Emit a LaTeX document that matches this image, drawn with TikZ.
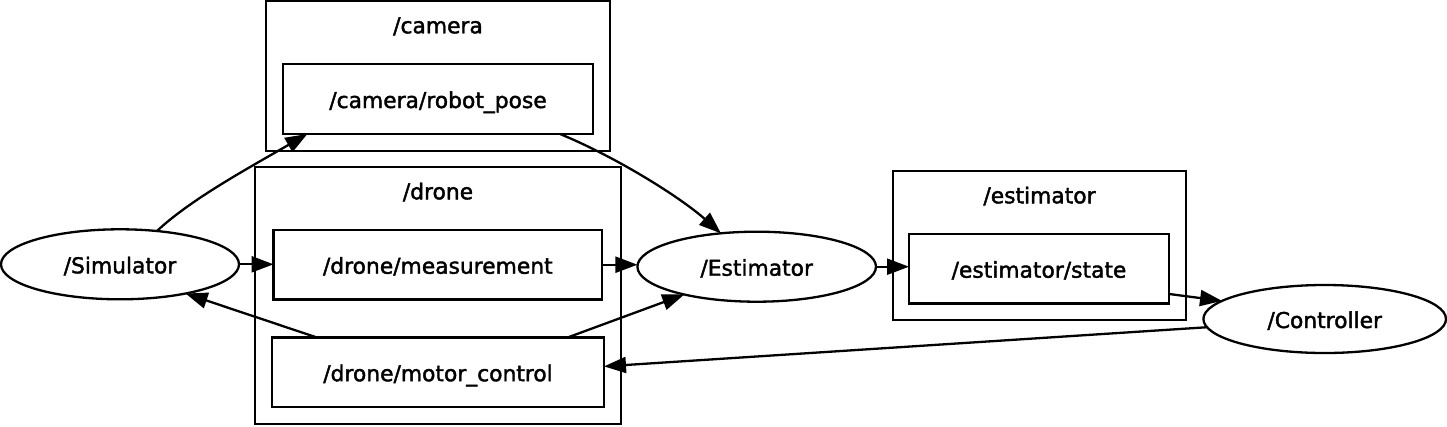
\documentclass[tikz,border=0pt]{standalone}
\usepackage{fontspec}
\setmainfont[FakeBold=1.8]{DejaVu Sans}
\usetikzlibrary{arrows.meta,shapes.geometric,calc}
\begin{document}
\begin{tikzpicture}[x=1pt,y=-1pt,
  every node/.style={font=\fontsize{21.8}{26}\selectfont, line width=2.3pt, inner sep=0pt, outer sep=0pt},
  lbl/.style={text height=20pt, text depth=2pt},
  topic/.style={draw, rectangle, lbl},
  rosnode/.style={draw, ellipse, lbl},
  cluster/.style={draw, rectangle},
  clabel/.style={anchor=base},
  conn/.style={line width=2.3pt, -{Triangle[length=22pt,width=16pt]}}
]
\useasboundingbox (0,0) rectangle (1447,426);

% clusters
\node[cluster, minimum width=344pt, minimum height=150pt] (camera) at (438,76) {};
\node[cluster, minimum width=366pt, minimum height=257pt] (drone) at (438,295.5) {};
\node[cluster, minimum width=293pt, minimum height=149pt] (estimator) at (1039.5,245.5) {};
\node[clabel] (cameralbl) at ($(camera.north)+(0,32.3)$) {/camera};
\node[clabel] (dronelbl) at ($(drone.north)+(0,32.3)$) {/drone};
\node[clabel] (estimatorlbl) at ($(estimator.north)+(0,32.3)$) {/estimator};

% topics
\node[topic, minimum width=310pt, minimum height=70pt] (robot) at (438,99) {/camera/robot\_pose};
\node[topic, minimum width=328.5pt, minimum height=69.5pt] (meas) at (437.8,264.7) {/drone/measurement};
\node[topic, minimum width=332pt, minimum height=69.5pt] (motor) at (438,372.2) {/drone/motor\_control};
\node[topic, minimum width=260pt, minimum height=69.3pt] (state) at (1039,268.7) {/estimator/state};

% ros nodes
\node[rosnode, minimum width=238pt, minimum height=70pt] (sim) at (120,264.3) {/Simulator};
\node[rosnode, minimum width=238.6pt, minimum height=70pt] (est) at (756.7,266.7) {/Estimator};
\node[rosnode, minimum width=242.6pt, minimum height=68pt] (ctrl) at (1324.7,319) {/Controller};

% connectors
\draw[conn] (sim.42) .. controls (190,200) and (245,170) .. (robot.195);
\draw[conn] (robot.344.7) .. controls (616,157) and (680,197) .. (est.137.2);
\draw[conn] (sim.east) -- (sim.east -| meas.west);
\draw[conn] (meas.east) -- (meas.east -| est.west);
\draw[conn] (motor.164.9) -- (sim.336.8);
\draw[conn] (motor.15.2) -- (est.201.5);
\draw[conn] (est.east) -- (est.east -| state.west);
\draw[conn] (state.349.9) -- (ctrl.170);
\draw[conn] (ctrl.184) -- (motor.2.6);
\end{tikzpicture}
\end{document}
